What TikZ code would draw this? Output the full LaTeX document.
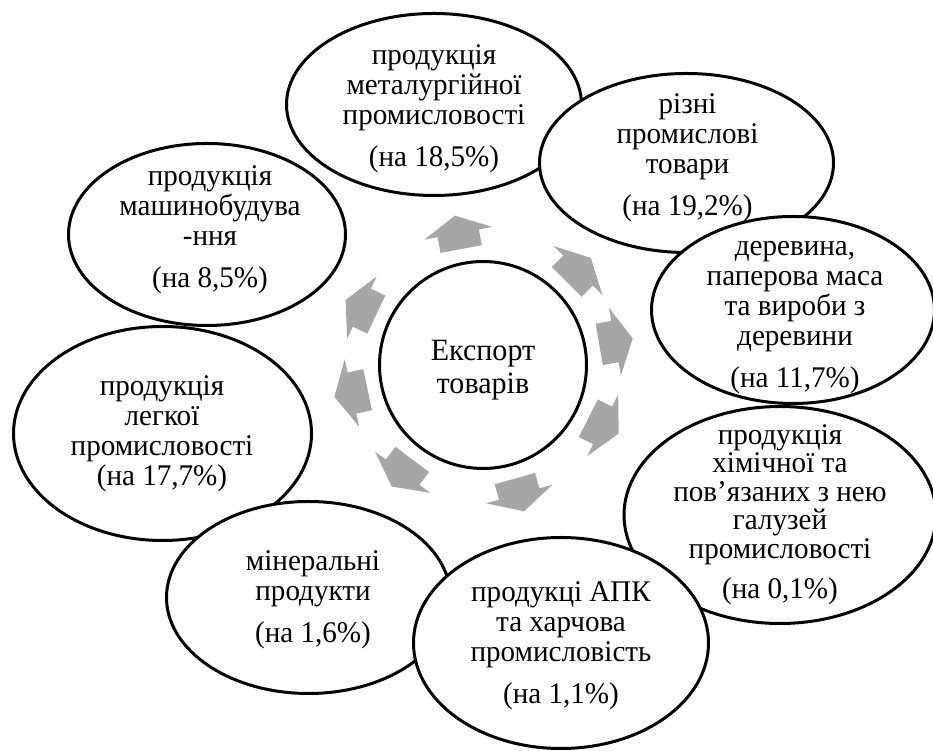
\documentclass[tikz,border=0pt]{standalone}
\usepackage{fontspec}
\setmainfont[FakeStretch=0.97]{Liberation Serif}
\usetikzlibrary{shapes.geometric}

\definecolor{arrowgray}{RGB}{166,166,166}
\tikzset{
	blob/.style={ellipse, draw, line width=3pt, fill=white, inner sep=0pt},
	txt/.style={align=center, inner sep=0pt, font=\fontsize{30}{30}\selectfont},
}

\begin{document}
\begin{tikzpicture}[x=1pt, y=1pt]
	\useasboundingbox (0,0) rectangle (933,751);

	% outer ring, back to front
	\node[blob, minimum width=277, minimum height=182] (mash) at (207,516.5) {};
	\node[txt] (mash-t) at (210,521) {продукція\\машинобудува\\-ння\\[12pt](на 8,5\%)};
	\node[blob, minimum width=298, minimum height=214] (legk) at (162.5,317.5) {};
	\node[txt] (legk-t) at (162,317) {продукція\\легкої\\промисловості\\(на 17,7\%)};
	\node[blob, minimum width=284, minimum height=192] (miner) at (308.5,153.5) {};
	\node[txt] (miner-t) at (313,151) {мінеральні\\продукти\\[12pt](на 1,6\%)};
	\node[blob, minimum width=295, minimum height=182] (metal) at (434,646.5) {};
	\node[txt] (metal-t) at (434,642.5) {продукція\\металургійної\\промисловості\\[12pt](на 18,5\%)};
	\node[blob, minimum width=294, minimum height=179] (rizni) at (686.5,588) {};
	\node[txt] (rizni-t) at (687.5,593.5) {різні\\промислові\\товари\\[12pt](на 19,2\%)};
	\node[blob, minimum width=283, minimum height=187] (derev) at (793,441) {};
	\node[txt] (derev-t) at (795,433) {деревина,\\паперова маса\\та вироби з\\деревини\\[12pt](на 11,7\%)};
	\node[blob, minimum width=312, minimum height=217] (khim) at (780,236) {};
	\node[txt, font=\fontsize{30}{28.5}\selectfont] (khim-t) at (780,236) {продукція\\хімічної та\\пов’язаних з нею\\галузей\\промисловості\\[12pt](на 0,1\%)};
	\node[blob, minimum width=295, minimum height=211] (apk) at (561,108) {};
	\node[txt] (apk-t) at (561,105) {продукці АПК\\та харчова\\промисловість\\[12pt](на 1,1\%)};

	\node[blob, circle, minimum size=207] (hub) at (483,386) {};
	\node[txt, font=\fontsize{31}{33}\selectfont] (hub-t) at (483,381) {Експорт\\товарів};

	% block arrows from the hub towards each ellipse
	\foreach \e in {metal,rizni,derev,khim,apk,miner,legk,mash} {
		\pgfmathanglebetweenpoints{\pgfpointanchor{hub}{center}}{\pgfpointanchor{\e}{center}}
		\let\arrang\pgfmathresult
		\begin{scope}[shift={(hub.center)}, rotate=\arrang]
			\fill[arrowgray] (118,-21) -- (134,-21) -- (134,-34.5) -- (152,0) -- (134,34.5) -- (134,21) -- (118,21) -- cycle;
		\end{scope}
	}
\end{tikzpicture}
\end{document}
